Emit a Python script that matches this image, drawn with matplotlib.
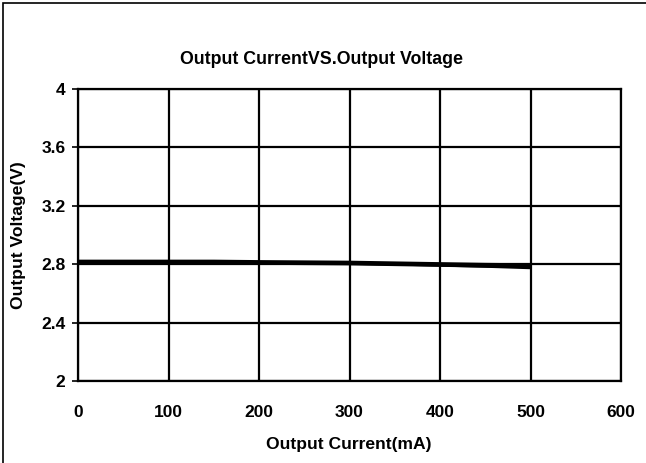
import matplotlib
matplotlib.use("Agg")
import matplotlib.pyplot as plt
from matplotlib.patches import Rectangle

current_ma = [0, 50, 100, 150, 200, 250, 300, 350, 400, 450, 500]
voltage_a = [2.815, 2.815, 2.815, 2.815, 2.812, 2.810, 2.808, 2.803, 2.798, 2.793, 2.790]
voltage_b = [2.812, 2.812, 2.812, 2.812, 2.809, 2.807, 2.805, 2.800, 2.793, 2.785, 2.775]
x_ticks = [0, 100, 200, 300, 400, 500, 600]
y_ticks = [2, 2.4, 2.8, 3.2, 3.6, 4]
y_ticklabels = ["2", "2.4", "2.8", "3.2", "3.6", "4"]

plt.rcParams['font.family'] = ['Liberation Sans', 'DejaVu Sans']
plt.rcParams['font.weight'] = 'bold'

fig = plt.figure(figsize=(6.46, 4.63), dpi=100)
fig.patches.append(Rectangle((3/646, -0.1), 1.2, 1 - 3/463 + 0.1, transform=fig.transFigure,
                             fill=False, edgecolor='black', linewidth=1.2))

ax = fig.add_axes([78/646, 1 - 381/463, (621 - 78)/646, (381 - 89)/463])
ax.plot(current_ma, voltage_a, color='black', linewidth=3.4, solid_capstyle='butt')
ax.plot(current_ma, voltage_b, color='black', linewidth=2.0, solid_capstyle='butt')

ax.set_xlim(0, 600)
ax.set_ylim(2, 4)
ax.set_xticks(x_ticks)
ax.set_yticks(y_ticks)
ax.set_yticklabels(y_ticklabels)
ax.grid(True, color='black', linewidth=1.6)
for s in ax.spines.values():
    s.set_linewidth(1.6)
ax.tick_params(axis='x', length=0, pad=17, labelsize=12.5)
ax.tick_params(axis='y', length=4, width=1.2, pad=5, labelsize=12.5)
for lbl in ax.get_xticklabels() + ax.get_yticklabels():
    lbl.set_fontweight('bold')

fig.text(322/646, 1 - 60/463, "Output CurrentVS.Output Voltage", ha='center', va='center',
         fontsize=12.8, fontweight='bold')
fig.text(349/646, 1 - 444/463, "Output Current(mA)", ha='center', va='center',
         fontsize=12.6, fontweight='bold')
fig.text(19/646, 1 - 235/463, "Output Voltage(V)", ha='center', va='center', rotation=90,
         fontsize=12.6, fontweight='bold')

fig.savefig("out.png", dpi=100)
